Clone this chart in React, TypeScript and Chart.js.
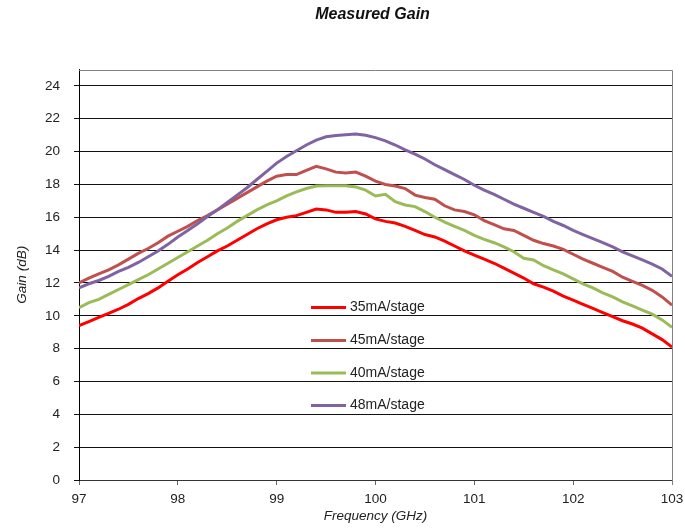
import { useEffect, useRef } from "react";
import { Chart, registerables } from "chart.js";

Chart.register(...registerables);

const chartTitle = "Measured Gain";
const xAxisTitle = "Frequency (GHz)";
const yAxisTitle = "Gain (dB)";

const frequencies = [
  97.0, 97.1, 97.2, 97.3, 97.4, 97.5, 97.6, 97.7, 97.8, 97.9,
  98.0, 98.1, 98.2, 98.3, 98.4, 98.5, 98.6, 98.7, 98.8, 98.9,
  99.0, 99.1, 99.2, 99.3, 99.4, 99.5, 99.6, 99.7, 99.8, 99.9,
  100.0, 100.1, 100.2, 100.3, 100.4, 100.5, 100.6, 100.7, 100.8, 100.9,
  101.0, 101.1, 101.2, 101.3, 101.4, 101.5, 101.6, 101.7, 101.8, 101.9,
  102.0, 102.1, 102.2, 102.3, 102.4, 102.5, 102.6, 102.7, 102.8, 102.9,
  103.0,
];

const gain35 = [
  9.4, 9.65, 9.9, 10.15, 10.4, 10.7, 11.05, 11.35, 11.7, 12.1,
  12.5, 12.85, 13.25, 13.6, 13.95, 14.25, 14.6, 14.95, 15.3, 15.6,
  15.85, 16.0, 16.1, 16.3, 16.5, 16.45, 16.3, 16.3, 16.35, 16.2,
  15.9, 15.75, 15.65, 15.45, 15.2, 14.95, 14.8, 14.55, 14.25, 13.95,
  13.7, 13.45, 13.2, 12.9, 12.6, 12.3, 11.95, 11.75, 11.5, 11.2,
  10.95, 10.7, 10.45, 10.2, 9.95, 9.7, 9.5, 9.25, 8.9, 8.55,
  8.1,
];

const gain45 = [
  12.0, 12.3, 12.55, 12.8, 13.1, 13.45, 13.8, 14.1, 14.45, 14.85,
  15.15, 15.45, 15.8, 16.1, 16.45, 16.8, 17.15, 17.5, 17.85, 18.2,
  18.5, 18.6, 18.6, 18.85, 19.1, 18.95, 18.75, 18.7, 18.75, 18.5,
  18.2, 18.0, 17.9, 17.75, 17.35, 17.2, 17.1, 16.7, 16.45, 16.35,
  16.15, 15.8, 15.55, 15.3, 15.2, 14.9, 14.6, 14.4, 14.25, 14.05,
  13.75, 13.45, 13.2, 12.95, 12.7, 12.35, 12.1, 11.85, 11.55, 11.15,
  10.65,
];

const gain40 = [
  10.5, 10.8, 11.0, 11.3, 11.6, 11.9, 12.2, 12.5, 12.85, 13.2,
  13.55, 13.9, 14.25, 14.6, 15.0, 15.35, 15.75, 16.1, 16.45, 16.75,
  17.0, 17.3, 17.55, 17.75, 17.9, 17.92, 17.92, 17.92, 17.85, 17.65,
  17.3, 17.4, 16.95, 16.75, 16.65, 16.35, 16.0, 15.7, 15.45, 15.2,
  14.9, 14.65, 14.45, 14.2, 13.9, 13.5, 13.4, 13.05, 12.8, 12.55,
  12.25, 11.95, 11.7, 11.4, 11.15, 10.85, 10.6, 10.35, 10.1, 9.75,
  9.3,
];

const gain48 = [
  11.7, 11.95, 12.15, 12.4, 12.7, 12.95, 13.25, 13.6, 13.95, 14.35,
  14.8, 15.2, 15.6, 16.05, 16.45, 16.9, 17.35, 17.8, 18.3, 18.8,
  19.3, 19.7, 20.05, 20.4, 20.7, 20.9, 20.98, 21.03, 21.07, 21.0,
  20.85, 20.65, 20.4, 20.1, 19.85, 19.55, 19.2, 18.9, 18.6, 18.3,
  17.95, 17.65, 17.4, 17.1, 16.8, 16.55, 16.3, 16.05, 15.75, 15.5,
  15.2, 14.95, 14.7, 14.45, 14.2, 13.9, 13.65, 13.4, 13.15, 12.85,
  12.4,
];

const seriesLabels = ["35mA/stage", "45mA/stage", "40mA/stage", "48mA/stage"];
const seriesValues = [gain35, gain45, gain40, gain48];
const seriesColors = ["#FF0000", "#C0504D", "#9BBB59", "#8064A2"];
const seriesOrder = [3, 2, 1, 0];

const FONT = '"Liberation Sans", Arial, sans-serif';

const framePlugin = {
  id: "frame",
  beforeDatasetsDraw(chart: any) {
    const { ctx, chartArea } = chart;
    ctx.save();
    ctx.strokeStyle = "#808080";
    ctx.lineWidth = 1;
    ctx.beginPath();
    const t = Math.round(chartArea.top) + 0.5;
    const r = Math.round(chartArea.right) + 0.5;
    ctx.moveTo(Math.round(chartArea.left), t);
    ctx.lineTo(r, t);
    ctx.lineTo(r, Math.round(chartArea.bottom) + 5);
    ctx.stroke();
    ctx.restore();
  },
};

const legendPlugin = {
  id: "insideLegend",
  afterDatasetsDraw(chart: any) {
    const { ctx, chartArea } = chart;
    const rows = [238, 271, 303.5, 336];
    ctx.save();
    ctx.font = `14px ${FONT}`;
    ctx.textBaseline = "middle";
    ctx.textAlign = "left";
    chart.data.datasets.forEach((ds: any, i: number) => {
      const y = chartArea.top + rows[i];
      ctx.strokeStyle = ds.borderColor;
      ctx.lineWidth = 3;
      ctx.beginPath();
      ctx.moveTo(chartArea.left + 232, y);
      ctx.lineTo(chartArea.left + 267, y);
      ctx.stroke();
      ctx.fillStyle = "#222";
      ctx.fillText(ds.label, chartArea.left + 271, y);
    });
    ctx.restore();
  },
};

const titlePlugin = {
  id: "customTitle",
  afterDraw(chart: any) {
    const { ctx, chartArea } = chart;
    ctx.save();
    ctx.font = `italic bold 16px ${FONT}`;
    ctx.fillStyle = "#111";
    ctx.textAlign = "center";
    ctx.textBaseline = "middle";
    ctx.fillText(chartTitle, (chartArea.left + chartArea.right) / 2 - 3, 15);
    ctx.restore();
  },
};

export default function App() {
  const canvasRef = useRef<HTMLCanvasElement | null>(null);

  useEffect(() => {
    if (!canvasRef.current) return;
    const chart = new Chart(canvasRef.current, {
      type: "line",
      data: {
        datasets: seriesLabels.map((label, i) => ({
          label,
          data: frequencies.map((f, j) => ({ x: f, y: seriesValues[i][j] })),
          borderColor: seriesColors[i],
          backgroundColor: seriesColors[i],
          borderWidth: 3,
          pointRadius: 0,
          tension: 0,
          fill: false,
          order: seriesOrder[i],
        })),
      },
      options: {
        animation: false,
        responsive: false,
        devicePixelRatio: 1,
        layout: { padding: { left: 0, right: 13, top: 69.5, bottom: 0 } },
        plugins: {
          legend: { display: false },
          title: { display: false },
          tooltip: { enabled: false },
        },
        scales: {
          x: {
            type: "linear",
            min: 97,
            max: 103,
            afterFit(scale: any) {
              scale.height = 50;
              scale.paddingLeft = 0;
              scale.paddingRight = 0;
            },
            ticks: {
              stepSize: 1,
              color: "#222",
              font: { family: FONT, size: 13.5 },
              padding: 6,
              maxRotation: 0,
            },
            grid: {
              display: true,
              drawOnChartArea: false,
              drawTicks: true,
              tickLength: 5,
              color: "#666",
            },
            border: { display: true, color: "#333", width: 1 },
            title: {
              display: true,
              text: xAxisTitle,
              color: "#222",
              font: { family: FONT, size: 13.5, style: "italic" },
              padding: { top: 0, bottom: 6 },
            },
          },
          y: {
            type: "linear",
            min: 0,
            max: 25,
            afterFit(scale: any) {
              scale.width = 79;
              scale.paddingTop = 0;
              scale.paddingBottom = 0;
            },
            ticks: {
              stepSize: 2,
              includeBounds: false,
              color: "#222",
              font: { family: FONT, size: 13.5 },
              padding: 14,
            },
            grid: {
              display: true,
              drawTicks: true,
              tickLength: 5,
              color: "#111",
              lineWidth: 1,
            },
            border: { display: true, color: "#000", width: 1 },
            title: {
              display: true,
              text: yAxisTitle,
              color: "#222",
              font: { family: FONT, size: 13.5, style: "italic" },
              padding: { top: 14, bottom: 0 },
            },
          },
        },
      },
      plugins: [framePlugin, legendPlugin, titlePlugin],
    } as any);
    return () => chart.destroy();
  }, []);

  return (
    <div style={{ position: "absolute", left: 0, top: 0, width: 685, height: 530, background: "#fff" }}>
      <canvas ref={canvasRef} width={685} height={530} style={{ display: "block" }} />
    </div>
  );
}
